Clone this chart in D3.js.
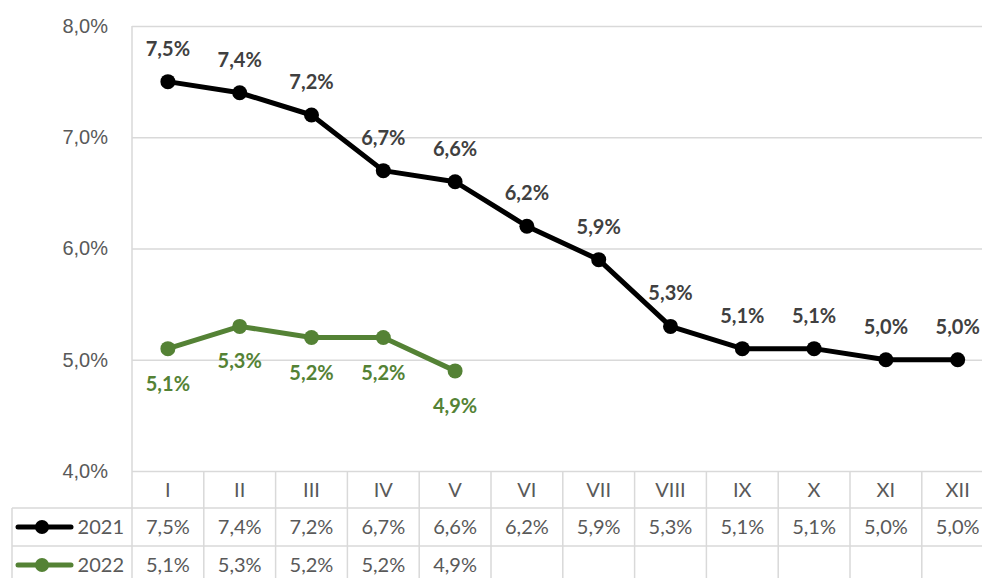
<!DOCTYPE html>
<html>
<head>
<meta charset="utf-8">
<script src="https://cdn.jsdelivr.net/npm/d3@7"></script>
<style>
  body { margin: 0; background: #fff; }
  svg { font-family: Lato, "Open Sans", sans-serif; }
</style>
</head>
<body>
<div id="root"></div>
<script>
const months = ["I", "II", "III", "IV", "V", "VI", "VII", "VIII", "IX", "X", "XI", "XII"];
const values2021 = [7.5, 7.4, 7.2, 6.7, 6.6, 6.2, 5.9, 5.3, 5.1, 5.1, 5.0, 5.0];
const values2022 = [5.1, 5.3, 5.2, 5.2, 4.9];
const seriesNames = ["2021", "2022"];
const yTicks = [4, 5, 6, 7, 8];

const width = 982;
const height = 578;
const left = 132;
const colW = 71.8;

const locale = d3.formatLocale({ decimal: ",", thousands: " ", grouping: [3], currency: ["", ""] });
const fmt = (v) => locale.format(".1f")(v) + "%";

const svg = d3.select("#root")
  .append("svg")
  .attr("width", width)
  .attr("height", height);

const x = d3.scaleBand()
  .domain(months)
  .range([left, left + colW * months.length]);

const y = d3.scaleLinear().domain([4, 8]).range([471, 26]);

const grey = "#d9d9d9";
const textGrey = "#595959";
const colors = ["#000000", "#548235"];

// Gridlines
const yAxis = d3.axisLeft(y)
  .tickValues(yTicks)
  .tickSize(-(width - left))
  .tickFormat(fmt);

const gy = svg.append("g")
  .attr("transform", `translate(${left},0)`)
  .call(yAxis);
gy.select(".domain").remove();
gy.selectAll(".tick line").attr("stroke", grey).attr("stroke-width", 1.3);
gy.selectAll(".tick text")
  .attr("x", -24)
  .attr("fill", textGrey)
  .attr("font-size", 20);

// Left border of plot / table
svg.append("line")
  .attr("x1", left).attr("x2", left)
  .attr("y1", y(8)).attr("y2", height)
  .attr("stroke", grey).attr("stroke-width", 1.5);

// Table
const rowTop = [471, 508, 546];
const rowBottom = [508, 546, 590];
const table = svg.append("g");

// vertical separators between columns
months.forEach((m) => {
  table.append("line")
    .attr("x1", x(m) + x.bandwidth()).attr("x2", x(m) + x.bandwidth())
    .attr("y1", rowTop[0]).attr("y2", height)
    .attr("stroke", grey).attr("stroke-width", 1.5);
});
// horizontal rows
[rowBottom[0], rowBottom[1]].forEach((ry) => {
  table.append("line")
    .attr("x1", 12).attr("x2", width)
    .attr("y1", ry).attr("y2", ry)
    .attr("stroke", grey).attr("stroke-width", 1.5);
});
table.append("line")
  .attr("x1", 12).attr("x2", 12)
  .attr("y1", rowBottom[0]).attr("y2", height)
  .attr("stroke", grey).attr("stroke-width", 1.5);

// header labels
table.selectAll(".hdr")
  .data(months)
  .join("text")
  .attr("x", (d) => x(d) + x.bandwidth() / 2)
  .attr("y", (rowTop[0] + rowBottom[0]) / 2)
  .attr("dy", "0.35em")
  .attr("text-anchor", "middle")
  .attr("fill", textGrey)
  .attr("font-size", 20)
  .text((d) => d);

// value rows
[values2021, values2022].forEach((vals, r) => {
  const cy = (rowTop[r + 1] + rowBottom[r + 1]) / 2 - (r === 1 ? 3 : 0);
  table.selectAll(".row" + r)
    .data(vals)
    .join("text")
    .attr("x", (d, i) => x(months[i]) + x.bandwidth() / 2)
    .attr("y", cy)
    .attr("dy", "0.35em")
    .attr("text-anchor", "middle")
    .attr("fill", textGrey)
    .attr("font-size", 20)
    .text((d) => fmt(d));

  // legend key
  table.append("line")
    .attr("x1", 18).attr("x2", 71)
    .attr("y1", cy).attr("y2", cy)
    .attr("stroke", colors[r]).attr("stroke-width", 5)
    .attr("stroke-linecap", "round");
  table.append("circle")
    .attr("cx", 42).attr("cy", cy).attr("r", 7)
    .attr("fill", colors[r]);
  table.append("text")
    .attr("x", 124).attr("y", cy)
    .attr("dy", "0.35em")
    .attr("text-anchor", "end")
    .attr("fill", textGrey)
    .attr("font-size", 20)
    .text(seriesNames[r]);
});

// Lines
const line = d3.line()
  .x((d, i) => x(months[i]) + x.bandwidth() / 2)
  .y((d) => y(d));

[values2021, values2022].forEach((vals, r) => {
  const g = svg.append("g");
  g.append("path")
    .datum(vals)
    .attr("d", line)
    .attr("fill", "none")
    .attr("stroke", colors[r])
    .attr("stroke-width", 5)
    .attr("stroke-linejoin", "round");
  g.selectAll("circle")
    .data(vals)
    .join("circle")
    .attr("cx", (d, i) => x(months[i]) + x.bandwidth() / 2)
    .attr("cy", (d) => y(d))
    .attr("r", 7.5)
    .attr("fill", colors[r]);
  g.selectAll("text")
    .data(vals)
    .join("text")
    .attr("x", (d, i) => x(months[i]) + x.bandwidth() / 2)
    .attr("y", (d) => y(d) + (r === 0 ? -33 : 35))
    .attr("dy", "0.35em")
    .attr("text-anchor", "middle")
    .attr("font-weight", "bold")
    .attr("font-size", 20)
    .attr("fill", r === 0 ? "#404040" : colors[r])
    .text((d) => fmt(d));
});
</script>
</body>
</html>
